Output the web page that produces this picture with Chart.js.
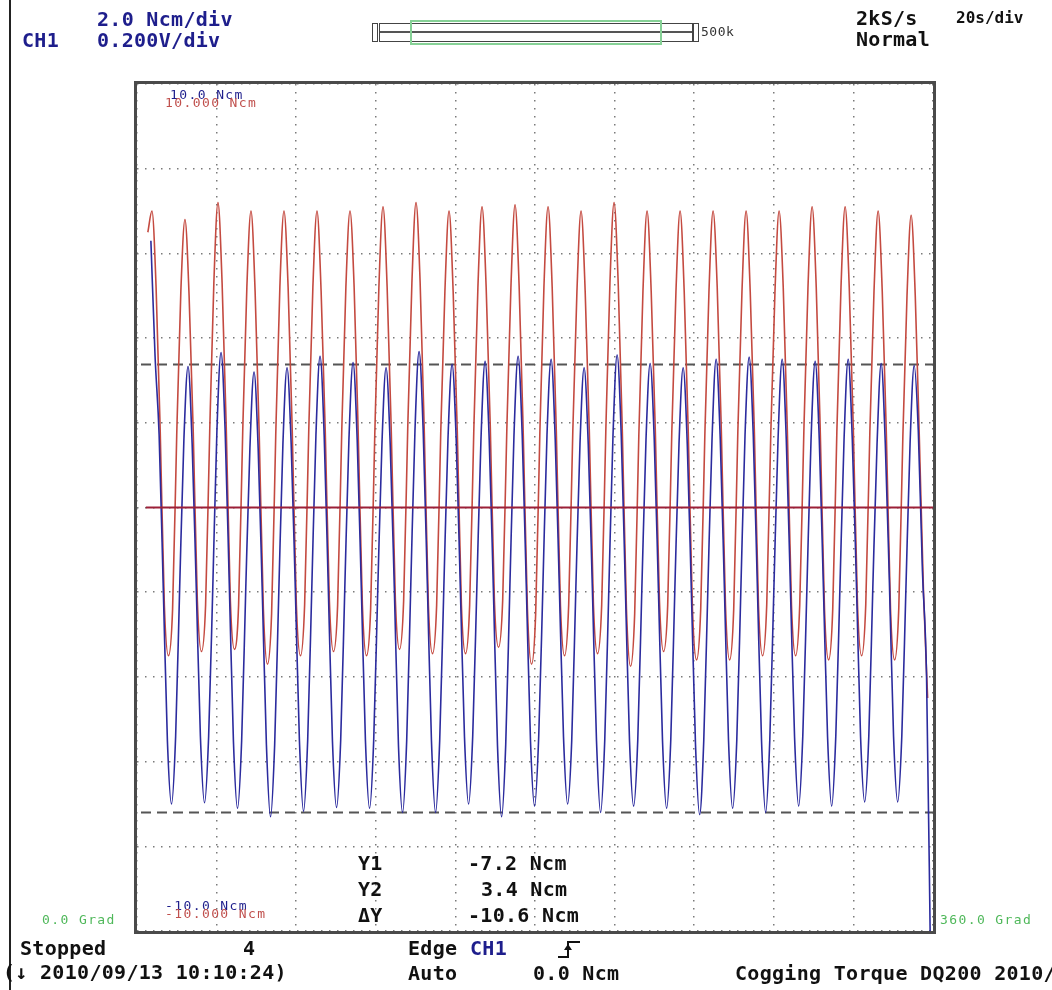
<!DOCTYPE html>
<html>
<head>
<meta charset="utf-8">
<script src="https://cdn.jsdelivr.net/npm/chart.js@4.4.1/dist/chart.umd.min.js"></script>
<style>
  html, body { margin:0; padding:0; background:#fff; width:1052px; height:990px; overflow:hidden; }
  #wrap { position:relative; width:1052px; height:990px; }
  canvas { position:absolute; left:0; top:0; }
  .t { position:absolute; white-space:nowrap; font-family:"DejaVu Sans Mono", monospace; line-height:1; }
  .big { font-size:20px; font-weight:bold; letter-spacing:0.3px; }
  .sm { font-size:13px; letter-spacing:1.4px; }
  .blue { color:#1e1e8c; }
  .blk { color:#111; }
  .red { color:#c0504d; }
  .grn { color:#4fb85a; }
  .box { position:absolute; box-sizing:border-box; }
</style>
</head>
<body>
<div id="wrap">
<canvas id="c" width="1052" height="990"></canvas>
</div>
<script>
// ---- data (Ncm) ----
const xMin = 0, xMax = 360;           // Grad
const yMin = -10, yMax = 10;          // Ncm
const sampleStep = 1.866;             // Grad between samples
const redStart = 4.9;                 // first red sample (Grad)
const blueStart = 6.28;               // first blue sample (Grad)
const cursorY1 = -7.2;
const cursorY2 = 3.4;
const zeroLine = [ {x:4, y:0}, {x:360, y:0} ];

const redTrace = [
  6.5,
  7.0, 5.2, 1.8, -2.3, -3.5, -2.4, 1.7, 5.1,
  6.8, 5.0, 1.8, -2.2, -3.4, -2.3, 1.8, 5.3,
  7.2, 5.3, 1.9, -2.2, -3.35, -2.3, 1.8, 5.2,
  7.0, 5.1, 1.7, -2.4, -3.7, -2.5, 1.7, 5.2,
  7.0, 5.2, 1.8, -2.3, -3.5, -2.3, 1.8, 5.2,
  7.0, 5.1, 1.8, -2.2, -3.4, -2.3, 1.8, 5.2,
  7.0, 5.2, 1.7, -2.3, -3.5, -2.4, 1.7, 5.2,
  7.1, 5.2, 1.8, -2.2, -3.35, -2.2, 1.9, 5.3,
  7.2, 5.3, 1.8, -2.3, -3.45, -2.3, 1.8, 5.1,
  7.0, 5.1, 1.8, -2.3, -3.45, -2.3, 1.8, 5.2,
  7.1, 5.2, 1.9, -2.2, -3.3, -2.2, 1.8, 5.2,
  7.15, 5.2, 1.7, -2.4, -3.7, -2.5, 1.7, 5.2,
  7.1, 5.2, 1.8, -2.3, -3.5, -2.3, 1.8, 5.1,
  7.0, 5.1, 1.8, -2.3, -3.45, -2.3, 1.8, 5.3,
  7.2, 5.3, 1.8, -2.4, -3.75, -2.5, 1.7, 5.1,
  7.0, 5.1, 1.8, -2.2, -3.4, -2.3, 1.8, 5.1,
  7.0, 5.1, 1.7, -2.4, -3.6, -2.4, 1.7, 5.1,
  7.0, 5.2, 1.8, -2.3, -3.6, -2.4, 1.8, 5.1,
  7.0, 5.1, 1.8, -2.3, -3.5, -2.3, 1.8, 5.1,
  7.0, 5.2, 1.8, -2.3, -3.5, -2.3, 1.8, 5.2,
  7.1, 5.2, 1.7, -2.4, -3.6, -2.4, 1.8, 5.2,
  7.1, 5.2, 1.8, -2.3, -3.5, -2.3, 1.8, 5.1,
  7.0, 5.1, 1.7, -2.4, -3.6, -2.4, 1.7, 5.0,
  6.9, 5.0, 1.6, -2.0, -4.5
];

const blueTrace = [
  6.3,
  3.6, 1.7, -1.9, -5.5, -7.0, -5.4, -1.8, 1.6,
  3.33, 1.5, -1.9, -5.4, -6.97, -5.4, -1.9, 1.8,
  3.66, 1.8, -1.8, -5.5, -7.1, -5.5, -1.9, 1.4,
  3.2, 1.4, -2.0, -5.6, -7.3, -5.6, -2.0, 1.5,
  3.3, 1.5, -1.9, -5.5, -7.17, -5.5, -1.9, 1.7,
  3.57, 1.7, -1.9, -5.5, -7.08, -5.5, -1.9, 1.6,
  3.42, 1.6, -1.9, -5.5, -7.1, -5.5, -1.9, 1.5,
  3.3, 1.5, -1.9, -5.6, -7.2, -5.5, -1.8, 1.8,
  3.68, 1.8, -1.8, -5.5, -7.2, -5.5, -1.9, 1.6,
  3.38, 1.6, -1.9, -5.4, -7.0, -5.4, -1.9, 1.6,
  3.45, 1.6, -1.9, -5.6, -7.3, -5.6, -1.9, 1.7,
  3.57, 1.7, -1.9, -5.5, -7.05, -5.4, -1.9, 1.7,
  3.5, 1.6, -1.9, -5.4, -7.0, -5.5, -1.9, 1.5,
  3.3, 1.5, -1.9, -5.5, -7.2, -5.5, -1.9, 1.7,
  3.6, 1.7, -1.9, -5.5, -7.05, -5.5, -1.9, 1.6,
  3.4, 1.6, -1.9, -5.5, -7.1, -5.5, -1.9, 1.5,
  3.3, 1.5, -2.0, -5.6, -7.25, -5.5, -1.9, 1.6,
  3.5, 1.6, -1.9, -5.5, -7.1, -5.5, -1.9, 1.7,
  3.55, 1.7, -1.9, -5.5, -7.2, -5.5, -1.9, 1.6,
  3.5, 1.6, -1.9, -5.4, -7.05, -5.4, -1.9, 1.6,
  3.45, 1.6, -1.9, -5.4, -7.05, -5.4, -1.9, 1.6,
  3.5, 1.6, -1.8, -5.4, -6.95, -5.4, -1.8, 1.5,
  3.4, 1.5, -1.8, -5.4, -6.95, -5.4, -1.9, 1.5,
  3.35, 1.8, -1.5, -4.0, -11.0
];

const headerTexts = {
  scaleA: "2.0 Ncm/div", chan: "CH1", scaleB: "0.200V/div",
  rate: "2kS/s", tdiv: "20s/div", mode: "Normal", mem: "500k"
};
const cursorLabels = ["Y1", "Y2", "ΔY"];
const cursorValues = ["-7.2 Ncm", "3.4 Ncm", "-10.6 Ncm"];
const rangeLabels = ["10.0 Ncm", "10.000 Ncm", "-10.0 Ncm", "-10.000 Ncm"];
const angleLabels = ["0.0 Grad", "360.0 Grad"];

// ---- build datasets (sample times from the time base) ----
const toXY = (arr, start) => arr.map((v, i) => ({ x: start + i * sampleStep, y: v }));

const wrap = document.getElementById('wrap');
function addText(txt, cls, x, cy, extraStyle) {
  const d = document.createElement('div');
  d.className = 't ' + cls;
  d.textContent = txt;
  const fs = cls.indexOf('big') >= 0 ? 20 : (cls.indexOf('mid') >= 0 ? 16 : 13);
  d.style.left = x + 'px';
  d.style.top = (cy - fs / 2) + 'px';
  if (extraStyle) d.style.cssText += extraStyle;
  wrap.appendChild(d);
  return d;
}
function addBox(x, y, w, h, style) {
  const b = document.createElement('div');
  b.className = 'box';
  b.style.left = x + 'px'; b.style.top = y + 'px';
  b.style.width = w + 'px'; b.style.height = h + 'px';
  b.style.cssText += style;
  wrap.appendChild(b);
}

// left margin line
addBox(9, 0, 2, 990, 'background:#222;');
// memory bar graphic
addBox(372, 23, 6, 19, 'border:1.5px solid #444;');
addBox(379, 23, 314, 19, 'border:1.5px solid #444;');
addBox(380, 31, 312, 2, 'background:#555;');
addBox(693, 23, 6, 19, 'border:1.5px solid #444;');
addBox(410, 20, 252, 25, 'border:2px solid #86d196;');

addText(headerTexts.scaleA, 'big blue', 97, 18.5);
addText(headerTexts.chan, 'big blue', 22, 40);
addText(headerTexts.scaleB, 'big blue', 97, 40);
addText(headerTexts.rate, 'big blk', 856, 17.5);
addText(headerTexts.tdiv, 'mid blk', 956, 17.5, 'font-size:16px;font-weight:bold;');
addText(headerTexts.mode, 'big blk', 856, 39);
addText(headerTexts.mem, 'sm', 701, 31, 'color:#333;letter-spacing:0.5px;');

addText(rangeLabels[0], 'sm blue', 170, 94);
addText(rangeLabels[1], 'sm red', 165, 102.5);
addText(rangeLabels[2], 'sm blue', 165, 905);
addText(rangeLabels[3], 'sm red', 165, 913.5);

addText(angleLabels[0], 'sm grn', 42, 919);
addText(angleLabels[1], 'sm grn', 940, 919);

addText(cursorLabels[0], 'big blk', 358, 863);
addText(cursorValues[0], 'big blk', 468, 863);
addText(cursorLabels[1], 'big blk', 358, 889);
addText(cursorValues[1], 'big blk', 481, 889);
addText(cursorLabels[2], 'big blk', 358, 915);
addText(cursorValues[2], 'big blk', 468, 915);

addText("Stopped", 'big blk', 20, 948);
addText("4", 'big blk', 243, 948);
addText("(\u2193 2010/09/13 10:10:24)", 'big blk', 3, 972);
addText("Edge", 'big blk', 408, 948);
addText("CH1", 'big blue', 470, 948);
addText("Auto", 'big blk', 408, 973);
addText("0.0 Ncm", 'big blk', 533, 973);
addText("Cogging Torque DQ200 2010/", 'big blk', 735, 973);

// rising edge trigger symbol
const svgNS = 'http://www.w3.org/2000/svg';
const svg = document.createElementNS(svgNS, 'svg');
svg.setAttribute('width', '26'); svg.setAttribute('height', '22');
svg.style.position = 'absolute'; svg.style.left = '556px'; svg.style.top = '938px';
svg.innerHTML = '<path d="M2 19 L12 19 L12 4 L24 4" fill="none" stroke="#111" stroke-width="2"/>' +
                '<path d="M8 12 L12 6 L16 12 Z" fill="#111"/>';
wrap.appendChild(svg);

// ---- chart ----
const frameAndCursors = {
  id: 'scopeDecor',
  beforeDatasetsDraw(chart) {
    const { ctx, chartArea: a, scales: { y } } = chart;
    ctx.save();
    ctx.strokeStyle = '#555';
    ctx.lineWidth = 2;
    ctx.setLineDash([10, 6]);
    [cursorY1, cursorY2].forEach(v => {
      const py = Math.round(y.getPixelForValue(v)) + 0.5;
      ctx.beginPath(); ctx.moveTo(a.left + 4, py); ctx.lineTo(a.right, py); ctx.stroke();
    });
    ctx.restore();
  },
  afterDraw(chart) {
    const { ctx, chartArea: a } = chart;
    ctx.save();
    ctx.strokeStyle = '#4a4a4a';
    ctx.lineWidth = 3;
    ctx.strokeRect(a.left - 1.5, a.top - 1.5, a.right - a.left + 3, a.bottom - a.top + 3);
    ctx.restore();
  }
};

new Chart(document.getElementById('c'), {
  type: 'line',
  data: {
    datasets: [
      { label: 'zero', data: zeroLine, borderColor: '#9c2038', borderWidth: 2, pointRadius: 0 },
      { label: 'CH1', data: toXY(blueTrace, blueStart), borderColor: '#2b2b9e', borderWidth: 1.6,
        pointRadius: 0, cubicInterpolationMode: 'monotone' },
      { label: 'CH2', data: toXY(redTrace, redStart), borderColor: '#c44a40', borderWidth: 1.6,
        pointRadius: 0, cubicInterpolationMode: 'monotone' }
    ]
  },
  options: {
    responsive: false,
    devicePixelRatio: 1,
    animation: false,
    parsing: true,
    layout: { padding: { left: 137, top: 84, right: 119, bottom: 59 } },
    plugins: { legend: { display: false }, tooltip: { enabled: false } },
    scales: {
      x: {
        type: 'linear', min: xMin, max: xMax,
        ticks: { display: false, stepSize: 36 },
        grid: { color: '#7a7a7a', lineWidth: 1.5, drawTicks: false },
        border: { display: false, dash: [1.5, 6.5] }
      },
      y: {
        type: 'linear', min: yMin, max: yMax,
        ticks: { display: false, stepSize: 2 },
        grid: { color: '#7a7a7a', lineWidth: 1.5, drawTicks: false },
        border: { display: false, dash: [1.5, 6.5] }
      }
    }
  },
  plugins: [frameAndCursors]
});
</script>
</body>
</html>
